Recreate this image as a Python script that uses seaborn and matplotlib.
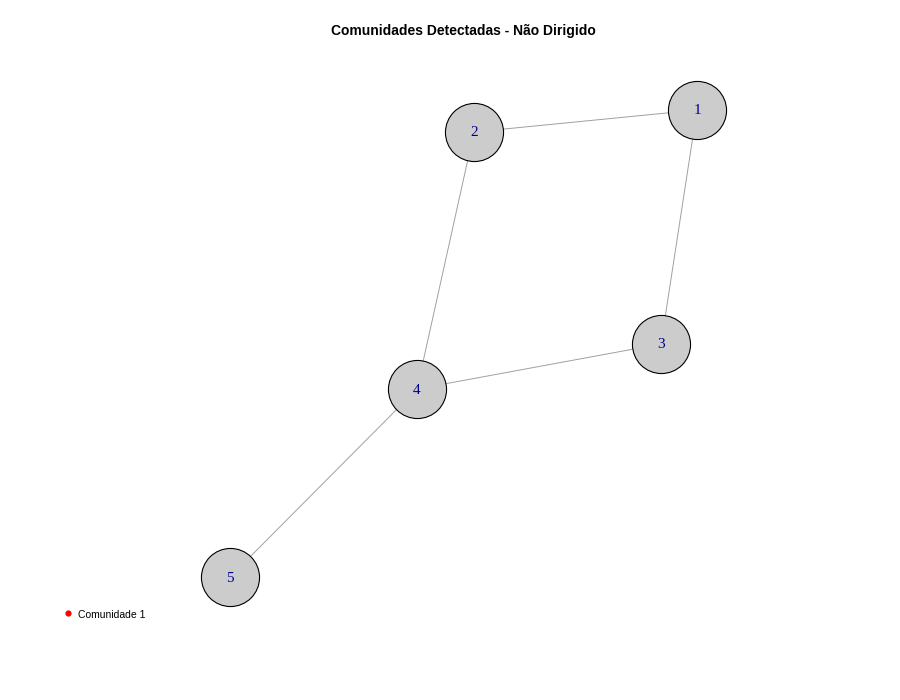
import matplotlib
matplotlib.use('Agg')
import matplotlib.pyplot as plt
import seaborn as sns
import pandas as pd

# Layout do grafo (coordenadas, eixo y para baixo)
nos = ['1', '2', '3', '4', '5']
x_nos = [697, 474, 661, 417, 230]
y_nos = [110, 132, 344, 389, 577]
arestas = [('1', '2'), ('1', '3'), ('2', '4'), ('3', '4'), ('4', '5')]
comunidades = ['Comunidade 1']

sns.set_theme(style='white')
plt.rcParams['font.family'] = ['Liberation Sans', 'DejaVu Sans']
plt.rcParams['text.color'] = 'black'

df = pd.DataFrame({'no': nos, 'x': x_nos, 'y': y_nos})
pos = {n: (x, y) for n, x, y in zip(nos, x_nos, y_nos)}

fig = plt.figure(figsize=(9, 7), dpi=100)
ax = fig.add_axes([0, 0, 1, 1])
ax.set_xlim(0, 900)
ax.set_ylim(700, 0)

for a, b in arestas:
    ax.plot([pos[a][0], pos[b][0]], [pos[a][1], pos[b][1]],
            color='#A0A0A0', lw=0.7, zorder=1)

sns.scatterplot(data=df, x='x', y='y', s=1750, color='#CCCCCC',
                edgecolor='black', linewidth=0.8, ax=ax, zorder=2, legend=False)

for n, x, y in zip(nos, x_nos, y_nos):
    ax.text(x, y + 1, n, ha='center', va='center', color='#00008B',
            fontsize=11, family=['Liberation Serif', 'DejaVu Serif'], zorder=3)

ax.text(463, 31, 'Comunidades Detectadas - Não Dirigido', ha='center', va='center',
        fontsize=10, fontweight='bold', color='black')

ax.scatter([68], [613], s=12, color='red', zorder=3)
ax.text(78, 615, comunidades[0], ha='left', va='center', fontsize=7.5, color='black')

ax.set_axis_off()
fig.savefig('out.png', dpi=100)
